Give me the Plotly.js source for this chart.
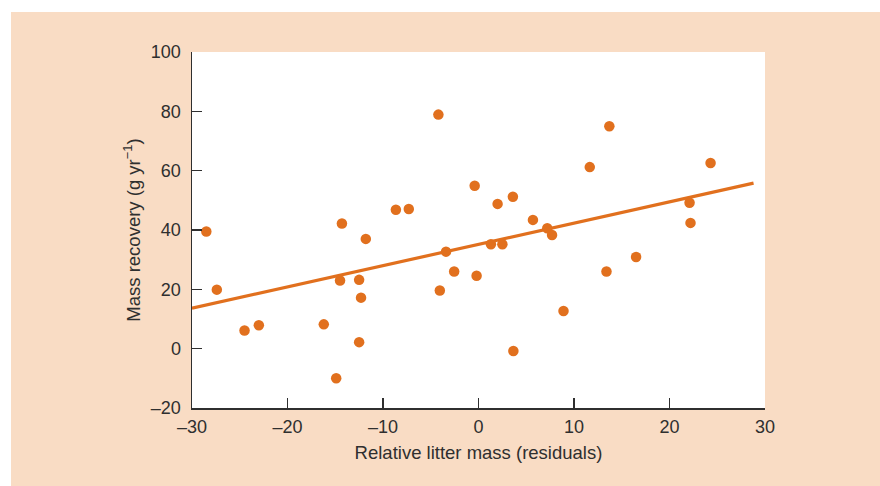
<!DOCTYPE html>
<html>
<head>
<meta charset="utf-8">
<script src="https://cdn.plot.ly/plotly-3.0.1.min.js"></script>
<style>
  html, body { margin: 0; padding: 0; background: #ffffff; width: 880px; height: 486px; overflow: hidden; }
  #chart { position: absolute; left: 11px; top: 12px; width: 869px; height: 474px; }
</style>
</head>
<body>
<div id="chart"></div>
<script>
// Relative litter mass (residuals)
var litterMass = [-28.5, -27.4, -24.5, -23.0, -16.2, -14.9, -14.5, -14.3, -12.5, -12.3,
                  -12.5, -11.8, -8.65, -7.3, -4.2, -4.05, -3.4, -2.55, -0.4, -0.2,
                  1.3, 2.0, 2.5, 3.6, 3.65, 5.7, 7.2, 7.7, 8.9, 11.65,
                  13.4, 13.7, 16.5, 22.1, 22.2, 24.3];
// Mass recovery (g yr^-1)
var massRecovery = [39.5, 19.9, 6.1, 7.9, 8.2, -10.0, 23.0, 42.2, 23.2, 17.2,
                    2.2, 37.0, 46.8, 47.1, 78.9, 19.6, 32.7, 26.0, 54.9, 24.6,
                    35.2, 48.8, 35.2, 51.2, -0.8, 43.4, 40.6, 38.3, 12.7, 61.2,
                    26.0, 75.0, 30.9, 49.2, 42.4, 62.6];
// Regression line endpoints
var fitX = [-30, 28.8];
var fitY = [13.65, 55.8];

var xTicks = [-30, -20, -10, 0, 10, 20, 30];
var yTicks = [-20, 0, 20, 40, 60, 80, 100];
function lab(v) { return v < 0 ? '\u2013' + Math.abs(v) : String(v); }

var orange = '#E1701E';
var ink = '#2f2f2f';
var fontFam = '"Liberation Sans", Arial, Helvetica, sans-serif';

var traces = [
  {
    x: fitX, y: fitY, type: 'scatter', mode: 'lines',
    line: { color: orange, width: 3.2 }, hoverinfo: 'skip', showlegend: false
  },
  {
    x: litterMass, y: massRecovery, type: 'scatter', mode: 'markers',
    marker: { color: orange, size: 10.5, line: { width: 0 } }, showlegend: false
  }
];

var layout = {
  width: 869, height: 474,
  margin: { l: 181, r: 115, t: 40, b: 78, pad: 0 },
  paper_bgcolor: '#F9DCC4',
  plot_bgcolor: '#ffffff',
  font: { family: fontFam, color: ink, size: 18 },
  showlegend: false,
  xaxis: {
    range: [-30, 30], tickvals: xTicks, ticktext: xTicks.map(lab),
    ticks: 'inside', ticklen: 10, tickwidth: 1.5, tickcolor: ink,
    showline: true, linecolor: ink, linewidth: 1.5,
    showgrid: false, zeroline: false, ticklabelstandoff: 2,
    tickfont: { size: 18, color: ink, family: fontFam },
    title: { text: 'Relative litter mass (residuals)', font: { size: 18.5, color: ink, family: fontFam }, standoff: 10 }
  },
  yaxis: {
    range: [-20, 100], tickvals: yTicks, ticktext: yTicks.map(lab),
    ticks: 'inside', ticklen: 10, tickwidth: 1.5, tickcolor: ink,
    showline: true, linecolor: ink, linewidth: 1.5,
    showgrid: false, zeroline: false, ticklabelstandoff: 6,
    tickfont: { size: 18, color: ink, family: fontFam },
    title: { text: 'Mass recovery (g yr<sup>\u22121</sup>)', font: { size: 18.5, color: ink, family: fontFam }, standoff: 5 }
  }
};

Plotly.newPlot('chart', traces, layout, { displayModeBar: false, staticPlot: true });
</script>
</body>
</html>
